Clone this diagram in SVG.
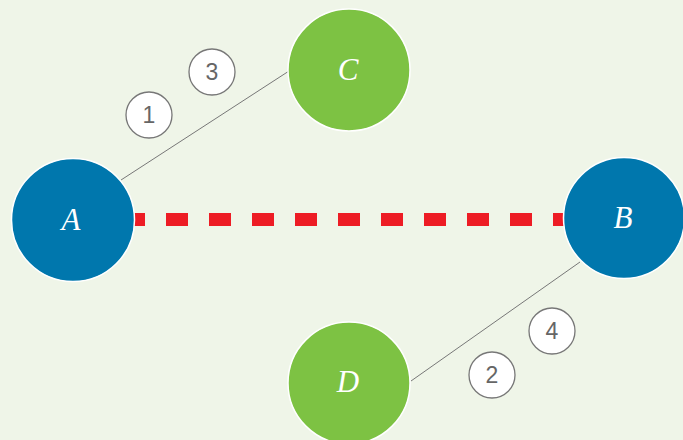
<svg xmlns="http://www.w3.org/2000/svg" width="683" height="440" viewBox="0 0 683 440">
<style>
.node{stroke:#ffffff;stroke-width:1.5}
.blue{fill:#0077ad}
.green{fill:#7dc243}
.lbl{font-family:"Liberation Serif",serif;font-style:italic;font-size:31px;fill:#ffffff;text-anchor:middle}
.conn{stroke:#777777;stroke-width:1;fill:none}
.num circle{fill:#ffffff;stroke:#777777;stroke-width:1.3}
.num text{font-family:"Liberation Sans",sans-serif;font-size:23px;fill:#666666;text-anchor:middle}
</style>
<rect width="683" height="440" fill="#eff5e8"/>
<g id="connectors">
<line x1="123" y1="219.5" x2="580" y2="219.5" stroke="#ed1c24" stroke-width="13" stroke-dasharray="22 21"/>
<line class="conn" x1="121" y1="180" x2="289" y2="71"/>
<line class="conn" x1="411" y1="381" x2="580" y2="262"/>
</g>
<g id="A"><circle class="node blue" cx="73" cy="220" r="61.5"/><text class="lbl" x="71" y="230">A</text></g>
<g id="B"><circle class="node blue" cx="624" cy="218" r="60.5"/><text class="lbl" x="623" y="228">B</text></g>
<g id="C"><circle class="node green" cx="349" cy="70" r="61"/><text class="lbl" x="348" y="80">C</text></g>
<g id="D"><circle class="node green" cx="349" cy="383" r="61"/><text class="lbl" x="348" y="392">D</text></g>
<g id="n1" class="num"><circle cx="149" cy="115" r="23"/><text x="149" y="123">1</text></g>
<g id="n3" class="num"><circle cx="212" cy="72" r="23"/><text x="212" y="80">3</text></g>
<g id="n4" class="num"><circle cx="552" cy="331" r="23"/><text x="552" y="339">4</text></g>
<g id="n2" class="num"><circle cx="492" cy="375" r="23"/><text x="492" y="383">2</text></g>
</svg>
